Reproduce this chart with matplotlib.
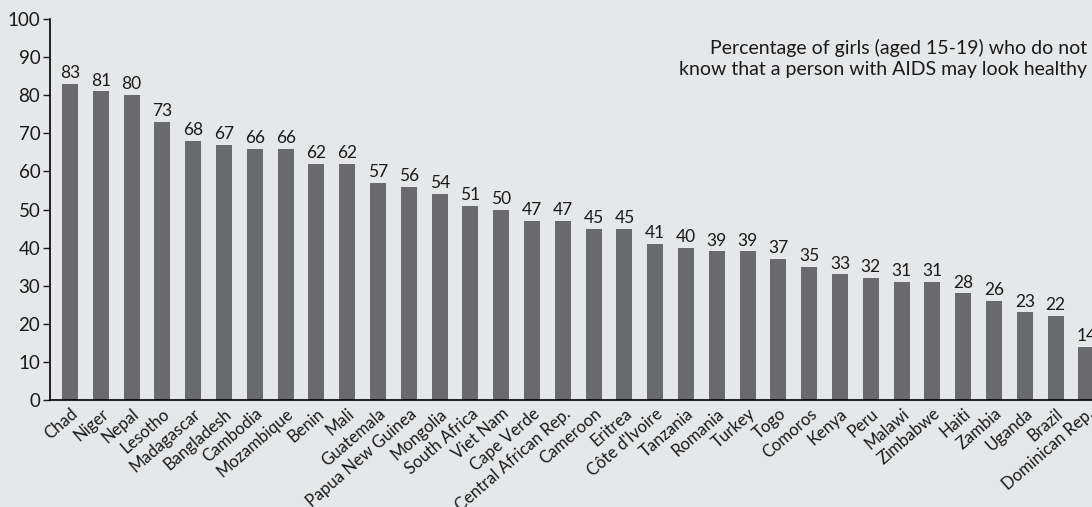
import matplotlib
matplotlib.use("Agg")
import matplotlib.pyplot as plt

countries = ["Chad", "Niger", "Nepal", "Lesotho", "Madagascar", "Bangladesh", "Cambodia",
             "Mozambique", "Benin", "Mali", "Guatemala", "Papua New Guinea", "Mongolia",
             "South Africa", "Viet Nam", "Cape Verde", "Central African Rep.", "Cameroon",
             "Eritrea", "Côte d'Ivoire", "Tanzania", "Romania", "Turkey", "Togo", "Comoros",
             "Kenya", "Peru", "Malawi", "Zimbabwe", "Haiti", "Zambia", "Uganda", "Brazil",
             "Dominican Rep."]
values = [83, 81, 80, 73, 68, 67, 66, 66, 62, 62, 57, 56, 54, 51, 50, 47, 47, 45, 45, 41,
          40, 39, 39, 37, 35, 33, 32, 31, 31, 28, 26, 23, 22, 14]

bg = "#e6e7e9"
bar_color = "#6a6a6e"
plt.rcParams['font.family'] = ['Lato', 'DejaVu Sans']

fig = plt.figure(figsize=(10.92, 5.07), dpi=100, facecolor=bg)
ax = fig.add_axes([0.0458, 0.211, 0.9542, 0.7515], facecolor=bg)

x = list(range(len(countries)))
ax.bar(x, values, width=0.52, color=bar_color, zorder=2)

for xi, v in zip(x, values):
    ax.annotate(str(v), (xi, v), xytext=(0, 2), textcoords="offset points",
                ha="center", va="bottom", fontsize=12.5, color="#1a1a1a")

ax.set_xlim(-0.65, 33.18)
ax.set_ylim(0, 100)
ax.set_yticks(range(0, 101, 10))
ax.tick_params(axis="y", labelsize=13.5, length=5, width=1, colors="#1a1a1a", pad=2)
ax.set_xticks(x)
ax.set_xticklabels(countries, rotation=41, ha="right", rotation_mode="anchor",
                   fontsize=12, color="#1a1a1a")
ax.tick_params(axis="x", length=0, pad=4)

for s in ["top", "right"]:
    ax.spines[s].set_visible(False)
ax.spines["left"].set_linewidth(1.2)
ax.spines["bottom"].set_linewidth(1.2)

fig.text(0.9955, 0.885, "Percentage of girls (aged 15-19) who do not\nknow that a person with AIDS may look healthy",
         ha="right", va="center", fontsize=14, color="#1a1a1a", linespacing=1.25)

fig.savefig("out.png", dpi=100, facecolor=bg)
